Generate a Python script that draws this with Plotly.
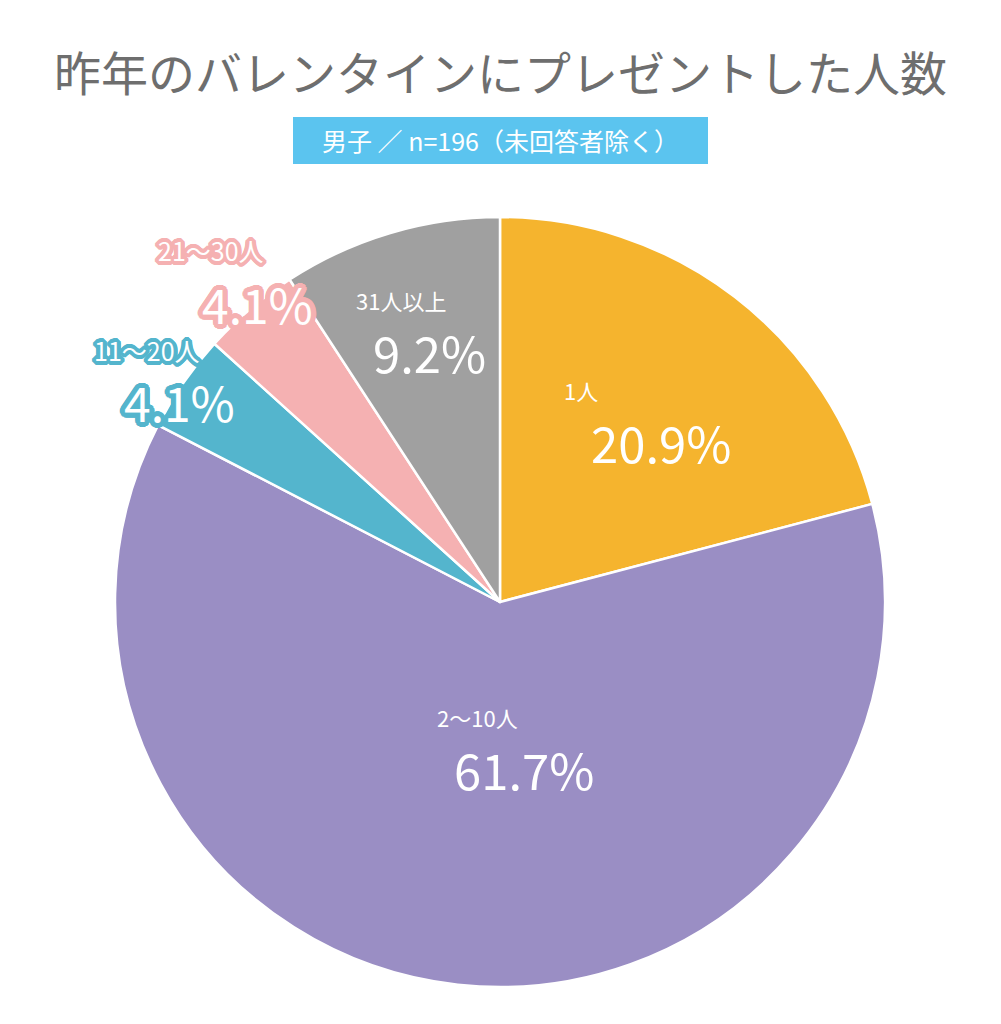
import math
import plotly.graph_objects as go

# ---- data ----
categories = ["1人", "2～10人", "11～20人", "21～30人", "31人以上"]
percents = [20.9, 61.7, 4.1, 4.1, 9.2]
colors = ["#F5B42E", "#9A8EC4", "#54B5CD", "#F5B1B2", "#A0A0A0"]
title_text = "昨年のバレンタインにプレゼントした人数"
subtitle_text = "男子 ／ n=196（未回答者除く）"

W, H = 1001, 1024
OFF = 8  # page body margin
CX, CY, R = 500, 602, 385

# label layout (style): radial factor, name offset, pct offset, outside flag
label_rf = [0.57, 0.38, 1.04, 1.08, 0.74]
name_off = [(-53, -38), (-6, -30), (-24, -24), (-19, -36), (-18, -29)]
pct_off = [(27, 13), (40, 21), (9, 27), (28, 17), (11, 23)]
outside = [False, False, True, True, False]

def px(x):
    return (x - OFF) / W

def py(y):
    return 1 - (y - OFF) / H

fig = go.Figure()
fig.add_trace(go.Pie(
    labels=categories,
    values=percents,
    sort=False,
    direction="clockwise",
    rotation=0,
    marker=dict(colors=colors, line=dict(color="white", width=2.5)),
    textinfo="none",
    hoverinfo="label+percent",
    showlegend=False,
    domain=dict(x=[px(CX - R), px(CX + R)], y=[py(CY + R), py(CY - R)]),
))

font_family = "Noto Sans CJK JP, Noto Sans, sans-serif"

def outline(col, w=3):
    parts = []
    for dx in range(-w, w + 1):
        for dy in range(-w, w + 1):
            if dx * dx + dy * dy <= w * w + 1 and (dx or dy):
                parts.append(f"{dx}px {dy}px 0 {col}")
    return ", ".join(parts)

total = sum(percents)
cum = 0
annotations = []
for i, (cat, v) in enumerate(zip(categories, percents)):
    mid = (cum + v / 2) / total * 2 * math.pi
    cum += v
    r = label_rf[i] * R
    ax = CX + r * math.sin(mid)
    ay = CY - r * math.cos(mid)
    if outside[i]:
        nfont = dict(size=25, color="white", family=font_family, shadow=outline(colors[i], 4))
        pfont = dict(size=48, color="white", family=font_family, shadow=outline(colors[i], 5))
    else:
        nfont = dict(size=22, color="white", family=font_family)
        pfont = dict(size=49, color="white", family=font_family)
    annotations.append(dict(
        x=px(ax + name_off[i][0]), y=py(ay + name_off[i][1]), xref="paper", yref="paper",
        text=cat, showarrow=False, font=nfont, xanchor="center", yanchor="middle"))
    annotations.append(dict(
        x=px(ax + pct_off[i][0]), y=py(ay + pct_off[i][1]), xref="paper", yref="paper",
        text=f"{v:.1f}%", showarrow=False, font=pfont, xanchor="center", yanchor="middle"))

annotations.append(dict(
    x=px(500), y=py(70), xref="paper", yref="paper", text=title_text, showarrow=False,
    font=dict(size=47, color="#6E6E6E", family=font_family), xanchor="center", yanchor="middle"))
annotations.append(dict(
    x=px(500), y=py(140), xref="paper", yref="paper", text=subtitle_text, showarrow=False,
    font=dict(size=25, color="white", family=font_family), xanchor="center", yanchor="middle"))

fig.add_shape(type="rect", xref="paper", yref="paper",
              x0=px(293), x1=px(708), y0=py(164), y1=py(117),
              fillcolor="#5BC4EF", line=dict(width=0), layer="below")

fig.update_layout(
    width=W, height=H,
    margin=dict(l=0, r=0, t=0, b=0),
    paper_bgcolor="white", plot_bgcolor="white",
    annotations=annotations,
)

fig.write_html("out.html")
